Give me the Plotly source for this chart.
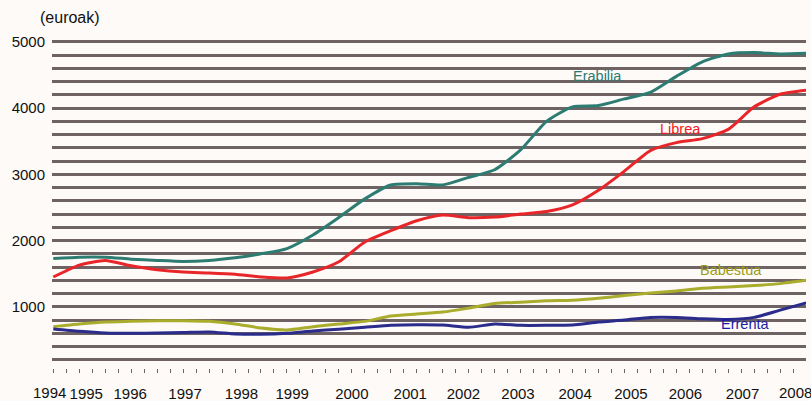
import plotly.graph_objects as go

# quarter index (0 = start of 1994), sampled every 2 quarters
quarters = list(range(0, 60, 2))

erabilia = [1730, 1750, 1750, 1720, 1700, 1685, 1700, 1740, 1800, 1880,
            2085, 2350, 2630, 2840, 2860, 2840, 2955, 3070, 3370, 3800,
            4020, 4040, 4140, 4240, 4480, 4700, 4820, 4840, 4820, 4830]
librea = [1450, 1630, 1700, 1620, 1560, 1525, 1510, 1490, 1450, 1435,
          1526, 1680, 1980, 2150, 2300, 2385, 2345, 2355, 2400, 2440,
          2540, 2760, 3050, 3360, 3480, 3540, 3680, 4020, 4210, 4270]
babestua = [700, 740, 770, 780, 790, 790, 780, 740, 680, 650,
            700, 740, 780, 860, 890, 920, 980, 1050, 1070, 1090,
            1100, 1130, 1170, 1210, 1240, 1280, 1300, 1320, 1350, 1400]
errenta = [665, 630, 605, 600, 605, 610, 620, 590, 585, 600,
           635, 660, 690, 720, 730, 725, 690, 740, 720, 720,
           725, 770, 800, 840, 840, 820, 810, 840, 950, 1060]

year_labels = ["1994", "1995", "1996", "1997", "1998", "1999", "2000", "2001",
               "2002", "2003", "2004", "2005", "2006", "2007", "2008"]
year_label_pos = [-0.3, 2.54, 5.92, 10.15, 14.5, 18.4, 23.0, 27.5,
                  31.6, 35.8, 40.2, 44.5, 48.7, 53.1, 57.2]
y_ticks = [1000, 2000, 3000, 4000, 5000]

series = [
    ("Erabilia", erabilia, "#2d7c72", "#2a7a72", 41.9, 4486),
    ("Librea", librea, "#e8262a", "#f01a20", 48.3, 3686),
    ("Babestua", babestua, "#aaac2c", "#9c9c18", 52.2, 1560),
    ("Errenta", errenta, "#2b2b8c", "#1c1ca6", 53.3, 740),
]

plot_px = 754.0  # plot width in pixels
q_px = 12.98
x0 = -0.1
x_span = plot_px / q_px

fig = go.Figure()
for name, vals, col, tcol, ax, ay in series:
    fig.add_trace(go.Scatter(x=quarters, y=vals, mode="lines", name=name,
                             line=dict(color=col, width=3, shape="spline", smoothing=0.6)))
    fig.add_annotation(x=ax, y=ay, text=name, showarrow=False,
                       font=dict(color=tcol, size=14.5, family="Liberation Sans, Arial"),
                       xanchor="center", yanchor="middle")

# edge year labels drawn as annotations so they are not dropped at the plot edges
inner = list(range(1, len(year_labels) - 1))
for k in (0, len(year_labels) - 1):
    fig.add_annotation(xref="paper", x=(year_label_pos[k] - x0) / x_span,
                       yref="paper", y=-0.06, text=year_labels[k],
                       showarrow=False, xanchor="center", yanchor="middle",
                       font=dict(size=15, color="#111", family="Liberation Sans, Arial"))

fig.add_annotation(xref="paper", yref="paper", x=0.024, y=1.069, text="(euroak)",
                   showarrow=False, xanchor="center", yanchor="middle",
                   font=dict(size=16, color="#111", family="Liberation Sans, Arial"))

bg = "#fdfaf8"
gridc = "#6e6262"
fig.update_layout(
    width=811, height=401,
    margin=dict(l=52, r=5, t=40, b=28, autoexpand=False),
    paper_bgcolor=bg, plot_bgcolor=bg,
    showlegend=False,
    font=dict(family="Liberation Sans, Arial", size=15, color="#111"),
    xaxis=dict(range=[x0, x0 + x_span], tickmode="array",
               tickvals=[year_label_pos[k] for k in inner],
               ticktext=[year_labels[k] for k in inner],
               showgrid=False, zeroline=False,
               ticks="", showline=False, ticklabelstandoff=10, tickangle=0,
               automargin=False, tickfont=dict(size=15),
               minor=dict(ticks="inside", tick0=0, dtick=1, ticklen=4,
                          tickcolor=gridc, tickwidth=1)),
    yaxis=dict(range=[0, 5030], tickmode="array", tickvals=y_ticks,
               showgrid=True, gridcolor=gridc, gridwidth=2.5, zeroline=False,
               ticks="", ticklabelstandoff=6, automargin=False,
               tickfont=dict(size=15),
               minor=dict(tick0=0, dtick=200, showgrid=True, gridcolor=gridc,
                          gridwidth=2.5)),
)

fig.write_html("out.html", config={"displayModeBar": False},
               post_script="document.body.style.margin='0px';document.body.style.overflow='hidden';")
